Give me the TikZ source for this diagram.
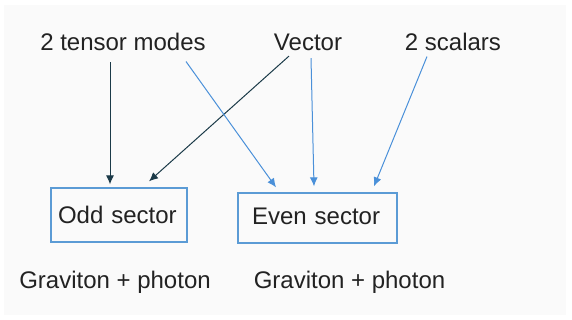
\documentclass[tikz,border=0pt]{standalone}
\usepackage{fontspec}
\setmainfont{Liberation Sans}
\usetikzlibrary{arrows.meta,calc}
\definecolor{panel}{HTML}{FAFAFA}
\definecolor{darkline}{HTML}{1B3A48}
\definecolor{blueline}{HTML}{4A90D9}
\definecolor{boxline}{HTML}{5B9BD5}
\definecolor{txt}{HTML}{222222}
\tikzset{
  lbl/.style={inner sep=0pt, font=\fontsize{24}{28}\selectfont, text=txt},
  sectorbox/.style={draw=boxline, line width=1.3pt, font=\fontsize{24}{28}\selectfont, text=txt, align=left, inner ysep=0pt},
  darkarrow/.style={draw=darkline, line width=1pt, -{Latex[length=9pt,width=8pt]}},
  bluearrow/.style={draw=blueline, line width=1pt, -{Latex[length=9pt,width=8pt]}},
}
\begin{document}
\begin{tikzpicture}[x=1pt,y=-1pt]
\useasboundingbox (0,0) rectangle (572,320);
\fill[white] (0,0) rectangle (572,320);
\fill[panel] (4,5) rectangle (566,315);
\node[lbl] (tensor) at (123,42) {2 tensor modes};
\node[lbl] (vector) at (308,42) {Vector};
\node[lbl] (scalars) at (453,42) {2 scalars};
\node[sectorbox, minimum height=54pt, text width=122pt, inner xsep=7pt] (odd) at (119,215) {Odd sector};
\node[sectorbox, minimum height=50pt, text width=131pt, inner xsep=14pt] (even) at (317.5,218) {\raisebox{3.5pt}{Even sector}};
\node[lbl] (grav1) at (115,282) {Graviton + photon};
\node[lbl] (grav2) at (349.5,282) {Graviton + photon};
\draw[darkarrow] ($(tensor.south)+(-13,11)$) -- ($(odd.north)+(-9,-3)$);
\draw[darkarrow] ($(vector.south)+(-19,5.5)$) -- ($(odd.north)+(30,-6)$);
\draw[bluearrow] ($(tensor.south)+(63,10.5)$) -- ($(even.north)+(-41.5,-5)$);
\draw[bluearrow] ($(vector.south)+(3,7.5)$) -- ($(even.north)+(-3.5,-6)$);
\draw[bluearrow] ($(scalars.south)+(-26,5.5)$) -- ($(even.north)+(56.5,-6)$);
\end{tikzpicture}
\end{document}
